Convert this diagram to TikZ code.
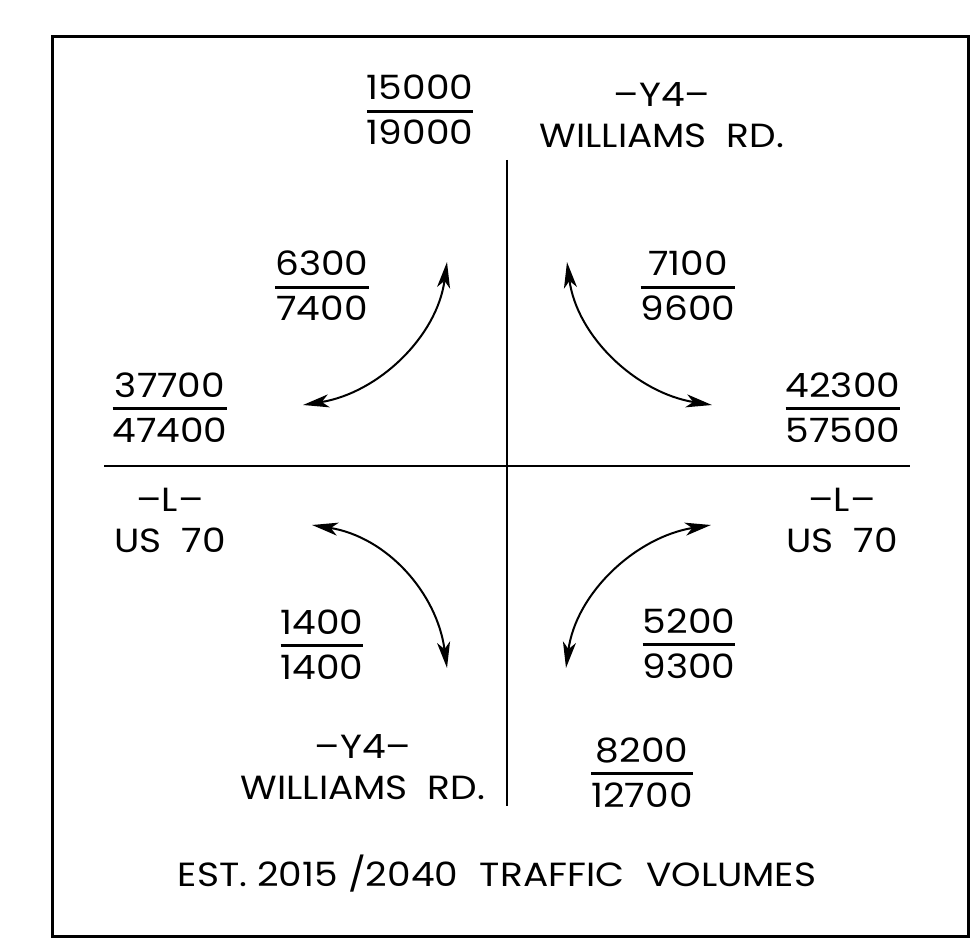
\documentclass[tikz,border=0pt]{standalone}
\usepackage{fontspec}
\setmainfont{Poppins}[FakeStretch=1.12]
\usetikzlibrary{arrows.meta,calc}
\renewcommand\arraystretch{0}
\setlength\arrayrulewidth{3pt}
\newcommand\vol[2]{\begin{tabular}[t]{@{}c@{}}#1\rule[-10pt]{0pt}{10pt}\\\hline\rule{0pt}{32pt}#2\end{tabular}}
\begin{document}
\begin{tikzpicture}[x=1pt,y=-1pt,
  txt/.style={inner sep=0pt,font=\fontsize{33.5}{41}\selectfont},
  volnode/.style={txt,anchor=base},
  road/.style={txt,align=center},
  roadline/.style={line width=2.5pt},
  turn/.style={line width=2pt,{Stealth[length=26pt,width=13pt,inset=7pt]}-{Stealth[length=26pt,width=13pt,inset=7pt]}}]
\useasboundingbox (0,0) rectangle (977,949);
\draw[line width=3pt] (52,37) rectangle (968,936);
% roads
\coordinate (vtop) at (507,160);
\coordinate (vbot) at (507,806);
\coordinate (hl) at (104,466);
\coordinate (hr) at (910,466);
\draw[roadline] (vtop) -- (vbot);
\draw[roadline] (hl) -- (hr);
% volumes
\node[volnode] (n15000) at (420,100) {\vol{15000}{19000}};
\node[volnode] (n6300) at (322,276) {\vol{6300}{7400}};
\node[volnode] (n7100) at (688,276) {\vol{7100}{9600}};
\node[volnode] (n37700) at (170,397) {\vol{37700}{47400}};
\node[volnode] (n42300) at (843,397) {\vol{42300}{57500}};
\node[volnode] (n1400) at (322,634) {\vol{1400}{1400}};
\node[volnode] (n5200) at (689,633) {\vol{5200}{9300}};
\node[volnode] (n8200) at (642,762) {\vol{8200}{12700}};
% road labels
\node[road] (y4top) at (662,115) {--Y4--\\WILLIAMS\hspace{0.6em}RD.};
\node[road] (lleft) at (170,520) {--L--\\US\hspace{0.6em}70};
\node[road] (lright) at (842,520) {--L--\\US\hspace{0.6em}70};
\node[road] (y4bot) at (363,767) {--Y4--\\WILLIAMS\hspace{0.6em}RD.};
\node[txt] (title) at (497,874) {EST. 2015 /2040\hspace{0.65em}TRAFFIC\hspace{0.65em}VOLUMES};
% turning arrows
\coordinate (nwa) at (303,405); \coordinate (nwb) at (447,262);
\coordinate (nea) at (567,262); \coordinate (neb) at (712,405);
\coordinate (swa) at (312,525); \coordinate (swb) at (447,668);
\coordinate (sea) at (711,525); \coordinate (seb) at (566,668);
\draw[turn] (nwa) .. controls ($(nwa)+(75,-12)$) and ($(nwb)+(-10,75)$) .. (nwb);
\draw[turn] (nea) .. controls ($(nea)+(10,75)$) and ($(neb)+(-75,-12)$) .. (neb);
\draw[turn] (swa) .. controls ($(swa)+(75,12)$) and ($(swb)+(-10,-75)$) .. (swb);
\draw[turn] (sea) .. controls ($(sea)+(-75,12)$) and ($(seb)+(10,-75)$) .. (seb);
\end{tikzpicture}
\end{document}
